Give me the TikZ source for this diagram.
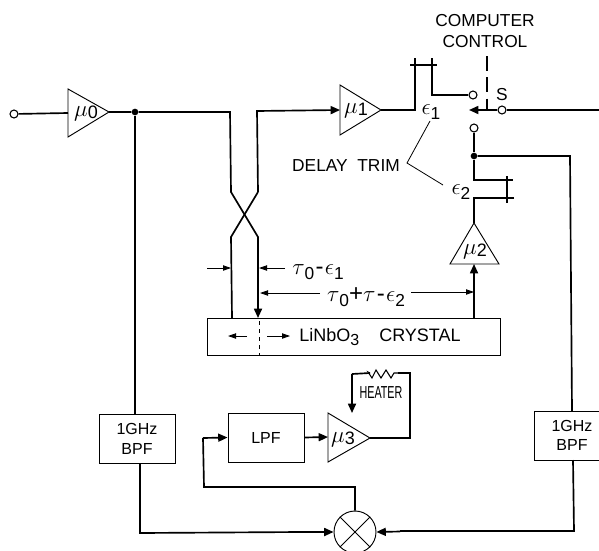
\documentclass[tikz,border=0pt]{standalone}
\usepackage{fontspec}
\setmainfont{Liberation Sans}
\usetikzlibrary{arrows.meta}
\newcommand{\ampname}[1]{$\mu$\kern0.3pt\raisebox{-1.5pt}{\fontsize{13.5pt}{15pt}\selectfont #1}}
\newcommand{\lowdigit}[1]{\raisebox{-3.5pt}{\fontsize{13pt}{13pt}\selectfont #1}}
\tikzset{
  wire/.style={line width=1.25pt,line join=miter},
  thin wire/.style={line width=0.6pt},
  sig/.style={wire,-{Triangle[length=7pt,width=6pt]}},
  dim/.style={thin wire,-{Triangle[length=6pt,width=4pt]}},
  amp/.style={line width=0.7pt,fill=white},
  block/.style={draw,line width=0.7pt,inner sep=0pt,align=center,font=\fontsize{12pt}{14.5pt}\selectfont,fill=white},
  term/.style={circle,draw,line width=0.8pt,fill=white,inner sep=0pt,minimum size=6pt},
  junction/.style={circle,fill=black,inner sep=0pt,minimum size=5pt},
  lab/.style={inner sep=0pt,font=\fontsize{13pt}{16pt}\selectfont,align=center},
  gain/.style={inner sep=0pt,font=\fontsize{19pt}{20pt}\selectfont},
  formula/.style={inner sep=0pt,font=\fontsize{18pt}{18pt}\selectfont},
}
\begin{document}
\begin{tikzpicture}[x=0.75pt,y=-0.75pt]
\useasboundingbox (0,0) rectangle (599,550);
\clip (0,0) rectangle (599,550);
% named points
\coordinate (m0a) at (68,89); \coordinate (m0b) at (68,137); \coordinate (m0o) at (109,112);
\coordinate (m0i) at (68,113);
\coordinate (m1a) at (340,85); \coordinate (m1b) at (340,135); \coordinate (m1o) at (381,110);
\coordinate (m1i) at (340,110);
\coordinate (m2a) at (450,264); \coordinate (m2b) at (499,264); \coordinate (m2o) at (474,223);
\coordinate (m2i) at (474,264);
\coordinate (m3a) at (328,413); \coordinate (m3b) at (328,462); \coordinate (m3o) at (370,438);
\coordinate (m3i) at (328,437);
% blocks
\node[block,minimum width=293pt*0.75,minimum height=37pt*0.75] (crystal) at (353.5,336.5) {};
\node[block,minimum width=76pt*0.75,minimum height=49pt*0.75] (bpfl) at (137,439) {1GHz\\BPF};
\node[block,minimum width=76pt*0.75,minimum height=49pt*0.75] (lpf) at (266,437.5) {LPF};
\node[block,minimum width=76pt*0.75,minimum height=49pt*0.75] (bpfr) at (572,435.5) {1GHz\\BPF};
\node[circle,draw,line width=0.7pt,inner sep=0pt,minimum size=42pt*0.75] (mix) at (355,532) {};
\draw[line width=0.7pt] (mix.45)--(mix.225) (mix.135)--(mix.315);
% terminals
\node[term] (in) at (14,114) {};
\node[term] (s1) at (473,95) {};
\node[term] (s2) at (474,128) {};
\node[term] (sc) at (502,110) {};
\node[junction] (j0) at (135,112) {};
\node[junction] (j2) at (474,156) {};
\coordinate (swtip) at (469,110);
\coordinate (rin) at (599,110);
% amplifiers
\draw[amp] (m0a)--(m0o)--(m0b)--cycle;
\draw[amp] (m1a)--(m1o)--(m1b)--cycle;
\draw[amp] (m2a)--(m2o)--(m2b)--cycle;
\draw[amp] (m3a)--(m3o)--(m3b)--cycle;
\node[gain] (g0) at (86,113) {\ampname{0}};
\node[gain] (g1) at (356,111) {\ampname{1}};
\node[gain] (g2) at (475,251) {\ampname{2}};
\node[gain] (g3) at (343,439) {\ampname{3}};
% input
\draw[wire] (in)--(m0i);
\draw[wire] (m0o)--(j0)--(230,112)--(231,192)--(258,237)--(258,300);
\draw[sig] (258,300)--(258,318);
\draw[wire] (j0)--(bpfl.north-|j0);
\draw[sig] (258,192)--(257,111)--(m1i);
\draw[wire] (258,192)--(231,237)--(232,318);
% trim 1
\draw[wire] (m1o)--(415,110)--(415,58);
\draw[wire] (410,65)--(437,65);
\draw[wire] (432,58)--(432,95)--(s1);
% switch
\draw[line width=1pt,dash pattern=on 11pt off 5pt] (487,56)--(487,110);
\draw[wire] (rin)--(sc);
\draw[sig] (sc)--(swtip);
\node[lab] (slab) at (502,95) {S};
% trim 2 and mu2
\draw[wire] (s2)--(j2)--(474,180)--(513,180);
\draw[wire] (507,176)--(507,203);
\draw[wire] (514,198)--(474,198)--(m2o);
\draw[sig] (474,318)--(m2i);
% right branch
\draw[wire] (j2)--(570,156)--(572,411);
\draw[wire] (573,460)--(574,531)--(400,531);
\draw[sig] (400,531.5)--(mix.east);
% left branch
\draw[wire] (bpfl.south-|140,0)--(140,533)--(300,532);
\draw[sig] (300,532)--(mix.west);
% mixer to lpf
\draw[wire] (mix.north)--(355,487)--(204,487)--(203,438);
\draw[sig] (203,438)--(lpf.west);
\draw[sig] (lpf.east)--(m3i);
% heater
\draw[wire] (m3o)--(410,438)--(410,373)--(398,373);
\coordinate (h1) at (398,373); \coordinate (h2) at (370,373);
\draw[line width=0.8pt] (h1)--(394,373)--(391,378)--(386,370)--(381,378)--(376,370)--(372,378)--(368,372)--(h2);
\draw[wire] (h2)--(352,374);
\draw[sig] (352,374)--(352,413);
\node[lab,font=\fontsize{13pt}{14pt}\selectfont,xscale=0.62] (heater) at (381,393) {HEATER};
% delay trim
\node[lab] (dt) at (346,166) {DELAY\ \ TRIM};
\draw[thin wire] (430,121)--(407,163)--(443,185);
\node[formula] (e1) at (431,112) {$\epsilon$\lowdigit{1}};
\node[formula] (e2) at (461,192) {$\epsilon$\lowdigit{2}};
\node[lab] (cc) at (485,31) {COMPUTER\\CONTROL};
% dimensions
\draw[dim] (207,268)--(231,268);
\draw[dim] (285,268)--(259,268);
\node[formula] (t1) at (318,272) {$\tau$\lowdigit{0}\kern1pt-\kern1pt$\epsilon$\lowdigit{1}};
\draw[dim] (320,293)--(260,293);
\draw[dim] (411,292)--(474,292);
\node[formula] (t2) at (366,297) {$\tau$\lowdigit{0}+$\tau$\kern1pt-\kern1pt$\epsilon$\lowdigit{2}};
% crystal inside
\draw[thin wire,dashed] (259,321)--(259,355);
\draw[dim] (247,336)--(228,336);
\draw[dim] (267,336)--(290,336);
\node[lab,font=\fontsize{13.5pt}{14pt}\selectfont] (cr) at (380,337) {LiNbO\lowdigit{\fontsize{12pt}{12pt}\selectfont 3}\ \ \ \ CRYSTAL};
\end{tikzpicture}
\end{document}
